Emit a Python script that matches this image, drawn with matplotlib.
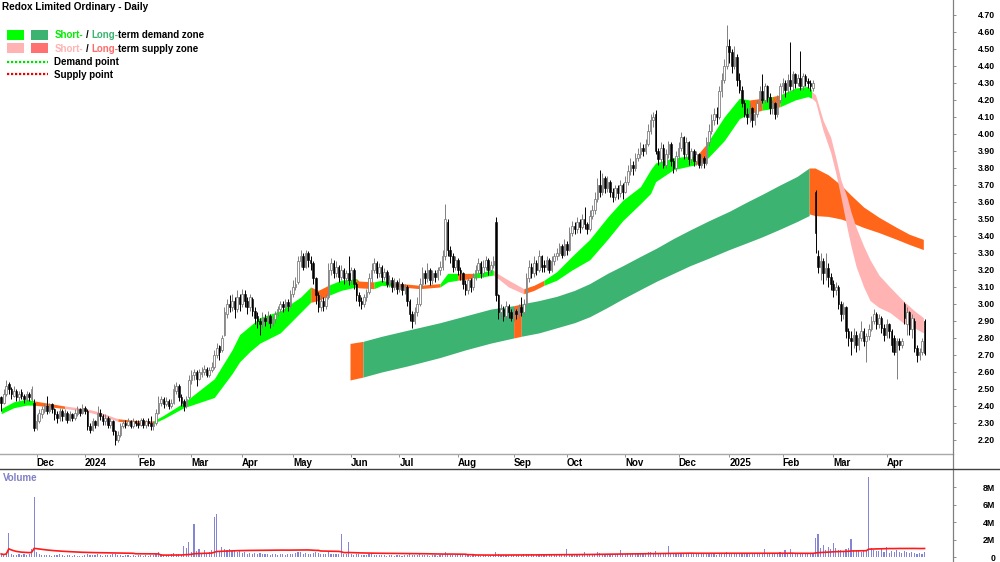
import matplotlib
matplotlib.use('Agg')
import matplotlib.pyplot as plt
from matplotlib.patches import Rectangle
from matplotlib.lines import Line2D
import numpy as np
import pandas as pd

plt.rcParams['font.family'] = ['Liberation Sans', 'DejaVu Sans']

# ASX trading days, Nov 2023 - Apr 2025
holidays = ['2023-12-25', '2023-12-26', '2024-01-01', '2024-01-26', '2024-03-29',
            '2024-04-01', '2024-04-25', '2024-06-10', '2024-12-25', '2024-12-26',
            '2025-01-01', '2025-01-27', '2025-04-18', '2025-04-21']
dates = pd.bdate_range('2023-11-13', '2025-04-24', freq='C', holidays=holidays)

# daily candles, one line per week
opens = [
    2.45, 2.42, 2.47, 2.53, 2.50, 2.46, 2.49, 2.45, 2.48, 2.46,
    2.44, 2.47, 2.44, 2.42, 2.27, 2.31, 2.35, 2.37, 2.40, 2.37,
    2.41, 2.38, 2.35, 2.33, 2.37, 2.34, 2.36, 2.32, 2.35, 2.33,
    2.35, 2.38, 2.36,
    2.39, 2.37, 2.28, 2.26,
    2.31, 2.29, 2.36, 2.34, 2.31, 2.33, 2.29, 2.31, 2.25, 2.20,
    2.23, 2.28, 2.30, 2.29,
    2.31, 2.28, 2.31, 2.30, 2.29, 2.32, 2.29, 2.31, 2.30, 2.28,
    2.30, 2.36, 2.42, 2.44, 2.41, 2.43, 2.40, 2.42, 2.49, 2.52,
    2.45, 2.43, 2.40, 2.45, 2.55, 2.58, 2.60, 2.56, 2.59, 2.60,
    2.62, 2.58, 2.61, 2.63, 2.70, 2.75, 2.73, 2.82, 2.94, 3.00,
    2.98, 3.02, 2.97, 3.04,
    3.00, 3.06, 3.02, 2.98,
    3.03, 2.96, 2.93, 2.90, 2.88, 2.92, 2.90, 2.93, 2.89, 2.91,
    2.94, 2.97, 3.00, 2.98,
    3.01, 2.99, 3.06, 3.10, 3.13, 3.25, 3.28, 3.22, 3.30, 3.26,
    3.24, 3.15, 3.05, 2.98, 3.02, 2.99, 3.04, 3.20, 3.24, 3.18,
    3.22, 3.16, 3.20, 3.15, 3.18, 3.14, 3.20, 3.12, 3.05, 3.02,
    3.00, 3.04, 3.07, 3.15,
    3.20, 3.24, 3.18, 3.22, 3.16, 3.19, 3.12, 3.14, 3.10, 3.13,
    3.09, 3.12, 3.08, 3.10, 3.02, 2.94, 2.90, 2.95, 3.00, 3.12,
    3.18, 3.15, 3.20, 3.14, 3.18, 3.16, 3.20, 3.22, 3.28, 3.48,
    3.32, 3.28, 3.22, 3.26, 3.20, 3.18, 3.12, 3.08, 3.14, 3.10,
    3.16, 3.20, 3.24, 3.18, 3.22, 3.26, 3.20, 3.23, 3.48, 3.05,
    2.95, 2.97, 2.93, 2.99, 2.95, 2.92, 2.96, 2.94, 2.98, 2.95,
    3.00, 3.15, 3.22, 3.18, 3.24, 3.20, 3.28, 3.23, 3.22, 3.26,
    3.20, 3.25, 3.28, 3.30, 3.34, 3.29, 3.35, 3.32, 3.42, 3.46,
    3.44, 3.48, 3.45, 3.50, 3.47, 3.44, 3.52, 3.55, 3.62, 3.70,
    3.66, 3.74, 3.68, 3.72, 3.66, 3.63, 3.68, 3.65, 3.70, 3.66,
    3.72, 3.78, 3.82, 3.80, 3.86, 3.88, 3.92, 3.90, 3.94, 4.02,
    4.08, 4.12, 3.90, 3.85, 3.92, 3.82, 3.88, 3.94, 3.84, 3.80,
    3.87, 3.92, 3.98, 3.88, 3.95, 3.85, 3.90, 3.84, 3.88, 3.82,
    3.86, 3.83, 3.95, 4.02, 4.08,
    4.12, 4.10, 4.25,
    4.32, 4.40, 4.52, 4.48,
    4.40, 4.45, 4.32, 4.26, 4.18, 4.12, 4.10, 4.15, 4.08, 4.12,
    4.18, 4.25, 4.20, 4.28, 4.22,
    4.15, 4.18, 4.12, 4.20,
    4.28, 4.30, 4.26, 4.32, 4.28, 4.35, 4.30, 4.33, 4.28, 4.34,
    4.31, 4.30, 4.27, 3.66, 3.28, 3.22, 3.25, 3.18, 3.21, 3.16,
    3.12, 3.08, 3.10, 3.00, 2.94, 2.98, 2.84, 2.80, 2.78, 2.82,
    2.76, 2.80, 2.84, 2.78, 2.81, 2.85, 2.90, 2.94, 2.88, 2.92,
    2.86, 2.82, 2.88, 2.84, 2.80, 2.72, 2.78, 2.76, 3.00, 2.88,
    2.95, 2.85, 2.90, 2.74,
    2.70, 2.72, 2.90]

highs = [
    2.46, 2.50, 2.55, 2.54, 2.51, 2.52, 2.50, 2.49, 2.50, 2.47,
    2.49, 2.48, 2.52, 2.44, 2.35, 2.38, 2.40, 2.42, 2.46, 2.42,
    2.42, 2.39, 2.37, 2.39, 2.38, 2.38, 2.37, 2.37, 2.36, 2.38,
    2.40, 2.39, 2.41,
    2.40, 2.38, 2.30, 2.33,
    2.32, 2.40, 2.38, 2.35, 2.35, 2.34, 2.33, 2.32, 2.26, 2.25,
    2.30, 2.32, 2.32, 2.33,
    2.32, 2.33, 2.32, 2.32, 2.33, 2.33, 2.32, 2.33, 2.34, 2.31,
    2.38, 2.46, 2.46, 2.45, 2.45, 2.44, 2.44, 2.53, 2.54, 2.53,
    2.47, 2.44, 2.46, 2.58, 2.61, 2.62, 2.61, 2.62, 2.63, 2.64,
    2.63, 2.63, 2.66, 2.73, 2.77, 2.76, 2.82, 2.98, 3.03, 3.05,
    3.06, 3.04, 3.08, 3.06,
    3.09, 3.08, 3.04, 3.06,
    3.04, 2.98, 2.95, 2.92, 2.95, 2.94, 2.96, 2.94, 2.93, 2.96,
    2.99, 3.02, 3.02, 3.03,
    3.03, 3.08, 3.14, 3.16, 3.28, 3.32, 3.30, 3.32, 3.31, 3.28,
    3.25, 3.16, 3.07, 3.05, 3.04, 3.06, 3.24, 3.27, 3.26, 3.25,
    3.23, 3.23, 3.21, 3.20, 3.28, 3.22, 3.21, 3.13, 3.07, 3.04,
    3.06, 3.09, 3.18, 3.24,
    3.27, 3.25, 3.24, 3.23, 3.21, 3.20, 3.17, 3.16, 3.15, 3.14,
    3.15, 3.13, 3.12, 3.11, 3.03, 2.96, 2.98, 3.04, 3.15, 3.22,
    3.20, 3.24, 3.21, 3.20, 3.20, 3.22, 3.25, 3.32, 3.59, 3.50,
    3.34, 3.30, 3.28, 3.27, 3.22, 3.19, 3.14, 3.16, 3.15, 3.18,
    3.23, 3.27, 3.25, 3.26, 3.28, 3.27, 3.25, 3.28, 3.51, 3.06,
    3.00, 2.99, 3.02, 3.00, 2.97, 2.98, 2.97, 3.00, 3.04, 3.03,
    3.18, 3.26, 3.24, 3.28, 3.26, 3.32, 3.29, 3.26, 3.28, 3.27,
    3.28, 3.30, 3.33, 3.36, 3.35, 3.38, 3.37, 3.45, 3.49, 3.48,
    3.51, 3.50, 3.53, 3.57, 3.48, 3.55, 3.58, 3.66, 3.74, 3.79,
    3.77, 3.75, 3.75, 3.73, 3.68, 3.70, 3.70, 3.73, 3.71, 3.75,
    3.82, 3.86, 3.84, 3.89, 3.92, 3.95, 3.94, 3.97, 4.06, 4.12,
    4.13, 4.14, 3.92, 3.95, 3.94, 3.91, 3.96, 3.95, 3.86, 3.90,
    3.95, 4.01, 3.99, 3.98, 3.96, 3.92, 3.91, 3.90, 3.89, 3.88,
    3.87, 3.98, 4.06, 4.12, 4.15,
    4.16, 4.28, 4.36,
    4.44, 4.64, 4.56, 4.50,
    4.52, 4.47, 4.36, 4.28, 4.20, 4.15, 4.18, 4.16, 4.14, 4.20,
    4.28, 4.35, 4.30, 4.29, 4.24,
    4.20, 4.19, 4.23, 4.30,
    4.33, 4.32, 4.35, 4.54, 4.37, 4.36, 4.35, 4.49, 4.36, 4.35,
    4.33, 4.32, 4.32, 3.67, 3.32, 3.30, 3.27, 3.30, 3.24, 3.18,
    3.14, 3.13, 3.11, 3.02, 3.01, 2.99, 2.86, 2.84, 2.86, 2.84,
    2.83, 2.90, 2.86, 2.83, 2.88, 2.93, 2.97, 2.95, 2.94, 2.93,
    2.88, 2.91, 2.89, 2.85, 2.82, 2.80, 2.80, 2.80, 3.01, 2.98,
    2.96, 2.94, 2.92, 2.76,
    2.74, 2.80, 2.91]

lows = [
    2.37, 2.41, 2.46, 2.47, 2.44, 2.45, 2.43, 2.43, 2.44, 2.42,
    2.43, 2.43, 2.43, 2.25, 2.26, 2.30, 2.33, 2.36, 2.35, 2.36,
    2.36, 2.32, 2.30, 2.31, 2.31, 2.32, 2.30, 2.31, 2.31, 2.32,
    2.34, 2.34, 2.35,
    2.35, 2.26, 2.24, 2.25,
    2.27, 2.28, 2.32, 2.29, 2.29, 2.27, 2.27, 2.23, 2.17, 2.19,
    2.22, 2.27, 2.27, 2.28,
    2.27, 2.27, 2.28, 2.27, 2.28, 2.27, 2.27, 2.28, 2.26, 2.26,
    2.29, 2.35, 2.40, 2.39, 2.40, 2.38, 2.39, 2.41, 2.47, 2.43,
    2.40, 2.37, 2.39, 2.44, 2.53, 2.55, 2.52, 2.55, 2.57, 2.58,
    2.57, 2.57, 2.60, 2.62, 2.68, 2.67, 2.72, 2.81, 2.92, 2.95,
    2.96, 2.92, 2.95, 2.96,
    2.98, 2.98, 2.94, 2.96,
    2.93, 2.88, 2.86, 2.82, 2.86, 2.87, 2.88, 2.86, 2.87, 2.89,
    2.93, 2.95, 2.95, 2.96,
    2.96, 2.98, 3.04, 3.08, 3.12, 3.22, 3.20, 3.21, 3.22, 3.20,
    3.12, 3.00, 2.95, 2.96, 2.96, 2.97, 3.03, 3.17, 3.15, 3.16,
    3.13, 3.14, 3.12, 3.13, 3.11, 3.12, 3.09, 3.02, 2.99, 2.97,
    2.98, 3.02, 3.06, 3.13,
    3.18, 3.15, 3.16, 3.13, 3.14, 3.10, 3.10, 3.07, 3.08, 3.06,
    3.07, 3.05, 3.06, 2.99, 2.90, 2.86, 2.88, 2.93, 2.99, 3.10,
    3.12, 3.13, 3.11, 3.12, 3.13, 3.14, 3.17, 3.20, 3.26, 3.28,
    3.24, 3.19, 3.20, 3.17, 3.14, 3.09, 3.05, 3.06, 3.07, 3.08,
    3.14, 3.18, 3.15, 3.16, 3.20, 3.17, 3.18, 3.21, 3.02, 2.91,
    2.92, 2.90, 2.91, 2.92, 2.90, 2.90, 2.91, 2.92, 2.93, 2.94,
    2.99, 3.13, 3.15, 3.16, 3.17, 3.19, 3.19, 3.19, 3.20, 3.18,
    3.19, 3.23, 3.26, 3.28, 3.27, 3.28, 3.29, 3.31, 3.40, 3.41,
    3.42, 3.42, 3.44, 3.44, 3.41, 3.43, 3.50, 3.53, 3.60, 3.63,
    3.64, 3.65, 3.66, 3.63, 3.60, 3.61, 3.62, 3.63, 3.62, 3.65,
    3.70, 3.76, 3.76, 3.78, 3.84, 3.86, 3.87, 3.88, 3.93, 4.00,
    4.04, 3.88, 3.82, 3.83, 3.80, 3.80, 3.86, 3.81, 3.77, 3.78,
    3.85, 3.90, 3.85, 3.86, 3.82, 3.83, 3.81, 3.82, 3.80, 3.80,
    3.80, 3.82, 3.93, 4.00, 4.05,
    4.06, 4.09, 4.22,
    4.30, 4.38, 4.42, 4.36,
    4.38, 4.28, 4.24, 4.16, 4.10, 4.06, 4.07, 4.04, 4.05, 4.10,
    4.16, 4.18, 4.18, 4.19, 4.12,
    4.12, 4.09, 4.10, 4.18,
    4.24, 4.22, 4.24, 4.26, 4.25, 4.27, 4.28, 4.26, 4.26, 4.28,
    4.27, 4.25, 4.25, 3.30, 3.18, 3.14, 3.12, 3.14, 3.10, 3.08,
    3.04, 3.05, 2.97, 2.90, 2.91, 2.80, 2.75, 2.70, 2.74, 2.72,
    2.73, 2.78, 2.75, 2.66, 2.79, 2.84, 2.88, 2.85, 2.86, 2.83,
    2.78, 2.80, 2.80, 2.72, 2.70, 2.56, 2.73, 2.74, 2.88, 2.82,
    2.82, 2.80, 2.72, 2.66,
    2.67, 2.70, 2.70]

closes = [
    2.42, 2.47, 2.52, 2.50, 2.47, 2.49, 2.45, 2.47, 2.46, 2.44,
    2.47, 2.45, 2.50, 2.27, 2.31, 2.36, 2.38, 2.40, 2.37, 2.41,
    2.38, 2.35, 2.33, 2.37, 2.34, 2.36, 2.32, 2.35, 2.33, 2.36,
    2.38, 2.36, 2.39,
    2.37, 2.28, 2.26, 2.31,
    2.29, 2.36, 2.34, 2.31, 2.33, 2.29, 2.31, 2.25, 2.20, 2.23,
    2.28, 2.30, 2.29, 2.31,
    2.28, 2.31, 2.30, 2.29, 2.32, 2.29, 2.31, 2.30, 2.28, 2.30,
    2.36, 2.42, 2.44, 2.41, 2.43, 2.40, 2.42, 2.50, 2.52, 2.45,
    2.42, 2.40, 2.44, 2.55, 2.58, 2.60, 2.56, 2.60, 2.60, 2.62,
    2.58, 2.61, 2.63, 2.70, 2.74, 2.72, 2.80, 2.95, 3.00, 2.98,
    3.02, 2.97, 3.04, 3.00,
    3.06, 3.02, 2.98, 3.04,
    2.96, 2.92, 2.90, 2.88, 2.92, 2.90, 2.93, 2.89, 2.91, 2.94,
    2.97, 3.00, 2.98, 3.01,
    2.99, 3.06, 3.10, 3.12, 3.25, 3.28, 3.22, 3.30, 3.26, 3.24,
    3.15, 3.05, 2.98, 3.02, 2.99, 3.04, 3.20, 3.24, 3.18, 3.22,
    3.16, 3.20, 3.15, 3.18, 3.14, 3.20, 3.12, 3.05, 3.02, 3.00,
    3.04, 3.07, 3.15, 3.20,
    3.24, 3.18, 3.22, 3.16, 3.19, 3.12, 3.14, 3.10, 3.13, 3.09,
    3.12, 3.08, 3.10, 3.02, 2.94, 2.90, 2.95, 3.00, 3.12, 3.18,
    3.15, 3.20, 3.14, 3.18, 3.16, 3.20, 3.22, 3.28, 3.50, 3.32,
    3.28, 3.22, 3.26, 3.20, 3.18, 3.12, 3.08, 3.14, 3.10, 3.16,
    3.20, 3.24, 3.18, 3.22, 3.26, 3.20, 3.23, 3.25, 3.05, 2.95,
    2.97, 2.93, 2.99, 2.95, 2.92, 2.96, 2.94, 2.98, 2.95, 3.00,
    3.15, 3.22, 3.18, 3.24, 3.20, 3.28, 3.22, 3.22, 3.26, 3.20,
    3.25, 3.28, 3.30, 3.34, 3.29, 3.35, 3.32, 3.42, 3.46, 3.44,
    3.48, 3.45, 3.50, 3.47, 3.44, 3.52, 3.55, 3.62, 3.70, 3.66,
    3.74, 3.68, 3.72, 3.66, 3.63, 3.68, 3.65, 3.70, 3.66, 3.72,
    3.78, 3.82, 3.80, 3.86, 3.88, 3.92, 3.90, 3.94, 4.02, 4.08,
    4.10, 3.90, 3.85, 3.92, 3.82, 3.88, 3.94, 3.84, 3.80, 3.87,
    3.92, 3.98, 3.88, 3.95, 3.85, 3.90, 3.84, 3.88, 3.82, 3.86,
    3.83, 3.95, 4.02, 4.08, 4.12,
    4.10, 4.25, 4.32,
    4.40, 4.52, 4.48, 4.40,
    4.45, 4.32, 4.26, 4.18, 4.12, 4.10, 4.15, 4.08, 4.12, 4.18,
    4.25, 4.20, 4.28, 4.22, 4.15,
    4.18, 4.12, 4.20, 4.28,
    4.30, 4.26, 4.32, 4.28, 4.35, 4.30, 4.33, 4.28, 4.34, 4.31,
    4.30, 4.28, 4.30, 3.42, 3.22, 3.25, 3.18, 3.21, 3.16, 3.12,
    3.08, 3.10, 3.00, 2.94, 2.98, 2.84, 2.80, 2.78, 2.82, 2.76,
    2.80, 2.84, 2.78, 2.81, 2.85, 2.90, 2.94, 2.88, 2.92, 2.86,
    2.82, 2.88, 2.84, 2.76, 2.72, 2.78, 2.76, 2.78, 2.92, 2.95,
    2.85, 2.92, 2.74, 2.70,
    2.72, 2.78, 2.71]

# volume in millions of shares
volumes = [
    0.35, 0.22, 0.48, 2.70, 0.30, 0.25, 0.18, 0.30, 0.22, 0.40,
    0.28, 0.35, 0.90, 6.90, 0.55, 0.30, 0.22, 0.18, 0.25, 0.20,
    0.15, 0.22, 0.18, 0.30, 0.20, 0.12, 0.25, 0.18, 0.15, 0.20,
    0.10, 0.14, 0.12,
    0.20, 0.35, 0.28, 0.22,
    0.18, 0.30, 0.22, 0.15, 0.20, 0.25, 0.18, 0.30, 0.35, 0.22,
    0.20, 0.15, 0.18, 0.22,
    0.14, 0.20, 0.16, 0.18, 0.22, 0.15, 0.20, 0.12, 0.18, 0.25,
    0.40, 0.55, 0.30, 0.22, 0.28, 0.25, 0.30, 0.45, 0.35, 0.30,
    0.28, 1.25, 1.00, 1.70, 0.60, 3.80, 0.70, 0.90, 0.50, 0.85,
    0.45, 0.60, 0.80, 4.60, 4.90, 0.70, 1.10, 0.95, 0.80, 0.90,
    0.65, 0.80, 0.55, 0.70,
    0.45, 0.60, 0.40, 0.50,
    0.35, 0.50, 0.30, 0.45, 0.40, 0.30, 0.35, 0.25, 0.40, 0.30,
    0.28, 0.35, 0.30, 0.25,
    0.30, 0.40, 0.35, 0.45, 0.60, 0.55, 0.40, 0.50, 0.35, 0.40,
    0.45, 0.60, 0.50, 0.35, 0.30, 0.30, 0.55, 0.40, 0.35, 0.30,
    0.35, 2.60, 0.40, 0.30, 1.70, 0.35, 0.25, 0.40, 0.30, 0.25,
    0.20, 0.25, 0.30, 0.35,
    0.25, 0.20, 0.22, 0.18, 0.20, 0.15, 0.18, 0.20, 0.15, 0.18,
    0.20, 0.15, 0.18, 0.25, 0.30, 0.28, 0.20, 0.22, 0.30, 0.25,
    0.18, 0.20, 0.15, 0.18, 0.20, 0.15, 0.20, 0.30, 0.55, 0.40,
    0.25, 0.20, 0.18, 0.22, 0.20, 0.25, 0.20, 0.18, 0.15, 0.20,
    0.18, 0.22, 0.15, 0.20, 0.18, 0.15, 0.20, 0.25, 0.60, 0.40,
    0.25, 0.20, 0.22, 0.18, 0.20, 0.22, 0.18, 0.20, 0.25, 0.30,
    0.40, 0.35, 0.30, 0.28, 0.25, 0.35, 0.30, 0.25, 0.28, 0.22,
    0.30, 0.25, 0.35, 0.40, 0.30, 0.35, 0.90, 0.40, 0.35, 0.30,
    0.30, 0.25, 0.35, 0.60, 0.30, 0.35, 0.30, 0.40, 0.55, 0.50,
    0.40, 0.35, 0.30, 0.35, 0.30, 0.35, 0.40, 0.75, 0.35, 0.40,
    0.45, 0.40, 0.50, 0.40, 0.35, 0.40, 0.45, 0.40, 0.55, 0.60,
    0.45, 0.70, 0.40, 0.35, 0.45, 0.40, 1.25, 0.45, 0.40, 0.35,
    0.40, 0.50, 0.45, 0.35, 0.40, 0.35, 0.40, 0.30, 0.35, 0.30,
    0.30, 0.35, 0.40, 0.45, 0.40,
    0.25, 0.35, 0.45,
    0.40, 0.60, 0.50, 0.45,
    0.40, 0.45, 0.35, 0.40, 0.35, 0.30, 0.35, 0.40, 0.30, 0.35,
    0.40, 0.35, 0.90, 0.40, 0.35,
    0.45, 0.40, 0.50, 0.60,
    0.40, 0.75, 0.45, 0.90, 0.40, 0.35, 0.40, 0.45, 0.35, 0.30,
    0.35, 0.40, 0.45, 2.20, 2.60, 1.00, 1.40, 0.80, 1.20, 0.90,
    1.60, 1.00, 0.75, 0.85, 0.70, 0.90, 1.00, 2.10, 0.80, 0.70,
    0.75, 0.60, 0.80, 0.70, 9.10, 1.00, 0.80, 0.70, 0.65, 0.90,
    0.60, 1.10, 0.50, 0.70, 0.60, 0.80, 0.55, 0.50, 0.65, 0.60,
    0.45, 0.55, 0.50, 0.40,
    0.45, 0.40, 0.55]

# short-term zone (trading-day index, lower, upper) and its colour spans
st_idx = [0, 5, 10, 13, 19, 25, 33, 38, 46, 53, 60, 64, 72, 78, 84, 91, 94, 98,
          102, 110, 118, 122, 125, 129, 134, 140, 141, 147, 150, 154, 165, 173,
          176, 180, 186, 190, 194, 195, 200, 206, 210, 214, 219, 225, 232, 239,
          245, 252, 256, 258, 265, 271, 274, 278, 285, 291, 295, 300, 304, 307,
          313, 318, 319.5]
st_lo = [2.355, 2.39, 2.405, 2.405, 2.395, 2.385, 2.37, 2.35, 2.31, 2.30, 2.298,
         2.325, 2.39, 2.42, 2.45, 2.59, 2.66, 2.72, 2.77, 2.83, 2.95, 3.01, 3.02,
         3.05, 3.08, 3.10, 3.095, 3.09, 3.11, 3.105, 3.09, 3.10, 3.13, 3.14, 3.15,
         3.16, 3.17, 3.16, 3.10, 3.06, 3.08, 3.11, 3.14, 3.20, 3.26, 3.38, 3.49,
         3.59, 3.65, 3.72, 3.79, 3.81, 3.82, 3.85, 3.96, 4.09, 4.12, 4.14, 4.15,
         4.16, 4.20, 4.22, 4.21]
st_hi = [2.385, 2.425, 2.44, 2.43, 2.415, 2.40, 2.385, 2.368, 2.325, 2.315, 2.312,
         2.345, 2.42, 2.49, 2.56, 2.73, 2.82, 2.87, 2.92, 2.96, 3.04, 3.10, 3.08,
         3.11, 3.14, 3.15, 3.135, 3.13, 3.14, 3.125, 3.11, 3.12, 3.18, 3.18, 3.18,
         3.19, 3.20, 3.185, 3.14, 3.09, 3.11, 3.14, 3.19, 3.28, 3.38, 3.51, 3.61,
         3.69, 3.79, 3.83, 3.86, 3.87, 3.87, 3.94, 4.10, 4.21, 4.20, 4.21, 4.22,
         4.23, 4.27, 4.28, 4.26]
st_spans = [(0, 13, 'demand'), (13, 25, 'hit'), (25, 46, 'supply'), (46, 60, 'hit'),
            (60, 122, 'demand'), (122, 129, 'hit'), (129, 140, 'demand'),
            (140, 147, 'hit'), (147, 154, 'demand'), (154, 173, 'hit'),
            (173, 180, 'demand'), (180, 186, 'hit'), (186, 194, 'demand'),
            (194, 206, 'supply'), (206, 214, 'hit'), (214, 274, 'demand'),
            (274, 278, 'hit'), (278, 295, 'demand'), (295, 300, 'hit'),
            (300, 304, 'demand'), (304, 307, 'hit'), (307, 319.5, 'demand')]

# short-term supply zone after the February 2025 drop
ss_idx = [319.5, 321, 324, 327, 329, 331, 333.4, 335, 337, 340, 342.5, 346,
          350.3, 355.5, 360, 363.5]
ss_lo = [4.21, 4.19, 4.02, 3.89, 3.77, 3.63, 3.45, 3.34, 3.22, 3.10, 3.02, 2.98,
         2.95, 2.89, 2.86, 2.83]
ss_hi = [4.25, 4.23, 4.08, 3.98, 3.86, 3.73, 3.63, 3.54, 3.45, 3.34, 3.26, 3.17,
         3.10, 3.02, 2.96, 2.92]

# long-term demand zone
lt_idx = [137.5, 142.6, 150, 160, 173, 183, 193, 202, 205, 212, 219, 226, 232,
          239, 245, 252, 258.5, 265, 271.5, 279, 287, 294, 300, 307, 313.7, 318.5]
lt_lo = [2.553, 2.57, 2.60, 2.635, 2.685, 2.73, 2.77, 2.80, 2.81, 2.83, 2.86,
         2.89, 2.925, 2.98, 3.03, 3.085, 3.135, 3.18, 3.225, 3.27, 3.32, 3.36,
         3.395, 3.44, 3.485, 3.52]
lt_hi = [2.768, 2.78, 2.81, 2.845, 2.89, 2.93, 2.97, 2.99, 3.00, 3.02, 3.045,
         3.08, 3.12, 3.18, 3.225, 3.28, 3.33, 3.385, 3.435, 3.49, 3.545, 3.60,
         3.645, 3.70, 3.75, 3.80]
lt_spans = [(137.5, 142.6, 'hit'), (142.6, 202, 'ltdemand'), (202, 205, 'hit'),
            (205, 318.5, 'ltdemand')]

# long-term supply zone
ls_idx = [318.5, 320.8, 326, 331, 335, 340, 346, 353, 358, 363.5]
ls_lo = [3.53, 3.52, 3.515, 3.50, 3.48, 3.45, 3.42, 3.38, 3.35, 3.32]
ls_hi = [3.80, 3.80, 3.76, 3.70, 3.64, 3.57, 3.51, 3.45, 3.41, 3.38]

zone_colors = {'demand': '#00FF00', 'ltdemand': '#3CB371', 'supply': '#FFB3B3',
               'ltsupply': '#FF7070', 'hit': '#FF661A'}

n = min(len(dates), len(closes))
dates = dates[:n]
o = np.array(opens[:n]); h = np.array(highs[:n])
l = np.array(lows[:n]); c = np.array(closes[:n])
vol = np.array(volumes[:n])
x = np.arange(n)


def fx(px):
    return px / 1000.0


def fy(py):
    return 1 - py / 562.0


fig = plt.figure(figsize=(10, 5.62), dpi=100)
ax = fig.add_axes([0, fy(454), fx(953), 1 - fy(454)])
axv = fig.add_axes([0, 0, fx(953), fy(469)])

# zones
def draw_spans(idx, lo, hi, spans, z):
    idx = np.array(idx); lo = np.array(lo); hi = np.array(hi)
    for s, e, kind in spans:
        m = (idx >= s) & (idx <= e)
        ax.fill_between(idx[m], lo[m], hi[m], color=zone_colors[kind], lw=0, zorder=z)

draw_spans(lt_idx, lt_lo, lt_hi, lt_spans, 1)
ax.fill_between(ls_idx, ls_lo, ls_hi, color=zone_colors['hit'], lw=0, zorder=1)
draw_spans(st_idx, st_lo, st_hi, st_spans, 1.5)
ax.fill_between(ss_idx, ss_lo, ss_hi, color=zone_colors['supply'], lw=0, zorder=1.6)

# candles
up = c >= o
dn = ~up
ax.vlines(x[up], l[up], h[up], color='#808080', lw=0.7, zorder=3)
ax.vlines(x[dn], l[dn], h[dn], color='black', lw=0.7, zorder=3)
ax.bar(x[up], np.maximum(c[up] - o[up], 0.006), bottom=o[up], width=0.62,
       facecolor='white', edgecolor='#808080', lw=0.6, zorder=4)
ax.bar(x[dn], np.maximum(o[dn] - c[dn], 0.006), bottom=c[dn], width=0.62,
       facecolor='black', edgecolor='black', lw=0.4, zorder=4)

ax.set_xlim(-0.47, 375.2)
ax.set_ylim(2.1176, 4.788)
ax.yaxis.tick_right()
ticks = np.round(np.arange(2.2, 4.71, 0.1), 2)
ax.set_yticks(ticks)
ax.set_yticklabels(['%.2f' % t for t in ticks], ha='right')
ax.tick_params(axis='y', direction='out', length=2.5, width=0.6, color='#808080',
               pad=28, labelsize=6.3)
for lab in ax.get_yticklabels():
    lab.set_fontweight('bold')

# month ticks
month_pos, month_lab = [], []
for k in range(1, n):
    if dates[k].month != dates[k - 1].month:
        month_pos.append(k)
        month_lab.append(str(dates[k].year) if dates[k].month == 1 else dates[k].strftime('%b'))
ax.set_xticks(month_pos)
ax.set_xticklabels(month_lab, ha='left', fontsize=7, fontweight='bold')
ax.tick_params(axis='x', direction='out', length=2.5, width=0.6, color='#808080', pad=0.5)

for side in ['top', 'left', 'right']:
    ax.spines[side].set_visible(False)
ax.spines['bottom'].set_color('#A8A8A8')
ax.spines['bottom'].set_linewidth(1.0)

# volume
axv.bar(x, vol, width=0.45, color='#8585D6', zorder=2)
vol_ma = pd.Series(vol).rolling(50, min_periods=1).mean()
axv.plot(x, vol_ma, color='#FF1A1A', lw=1.2, zorder=3)
axv.set_xlim(-0.47, 375.2)
axv.set_ylim(-0.57, 10.06)
axv.yaxis.tick_right()
axv.set_yticks([0, 2, 4, 6, 8])
axv.set_yticklabels(['0', '2M', '4M', '6M', '8M'], ha='right')
axv.tick_params(axis='y', direction='out', length=2.5, width=0.6, color='#808080',
                pad=28, labelsize=6.3)
for lab in axv.get_yticklabels():
    lab.set_fontweight('bold')
axv.set_xticks([])
for side in ['top', 'left', 'right', 'bottom']:
    axv.spines[side].set_visible(False)
axv.text(0.003, 0.9, 'Volume', transform=axv.transAxes, color='#8080C4',
         fontsize=7, fontweight='bold', va='center')

# frame lines
fig.add_artist(Line2D([fx(953), fx(953)], [0, 1], transform=fig.transFigure,
                      color='#808080', lw=0.9))
fig.add_artist(Line2D([0, 1], [fy(469), fy(469)], transform=fig.transFigure,
                      color='#404040', lw=1.0))

# title and legend
fig.text(fx(2), fy(7.5), 'Redox Limited Ordinary - Daily', fontsize=7.2,
         fontweight='bold', va='center', ha='left')

for (yy, c1, c2) in [(30, '#00FF00', '#3CB371'), (43, '#FFB3B3', '#FF7070')]:
    fig.add_artist(Rectangle((fx(7.3), fy(yy + 9.5)), fx(16.7), 9.5 / 562,
                             transform=fig.transFigure, color=c1, lw=0))
    fig.add_artist(Rectangle((fx(31), fy(yy + 9.5)), fx(16.7), 9.5 / 562,
                             transform=fig.transFigure, color=c2, lw=0))
fig.add_artist(Line2D([fx(7.3), fx(48)], [fy(61.7)] * 2, transform=fig.transFigure,
                      color='#00DD00', lw=1.6, linestyle=(0, (1, 0.8))))
fig.add_artist(Line2D([fx(7.3), fx(48)], [fy(74)] * 2, transform=fig.transFigure,
                      color='#EE0000', lw=1.6, linestyle=(0, (1, 0.8))))

renderer = fig.canvas.get_renderer()


def piece_text(px, py, pieces):
    for s, col, gap in pieces:
        t = fig.text(fx(px), fy(py), s, color=col, fontsize=7, fontweight='bold',
                     va='center', ha='left')
        px += t.get_window_extent(renderer).width + gap


piece_text(54.5, 35, [('Short-', '#00EE00', 2.5), ('/', 'black', 2.5),
                      ('Long-', '#3CB371', 0), ('term demand zone', 'black', 0)])
piece_text(54.5, 48.5, [('Short-', '#FFB3B3', 2.5), ('/', 'black', 2.5),
                        ('Long-', '#FF6B6B', 0), ('term supply zone', 'black', 0)])
fig.text(fx(54.5), fy(62), 'Demand point', fontsize=7, fontweight='bold', va='center')
fig.text(fx(54.5), fy(75), 'Supply point', fontsize=7, fontweight='bold', va='center')

fig.savefig('out.png', dpi=100)
